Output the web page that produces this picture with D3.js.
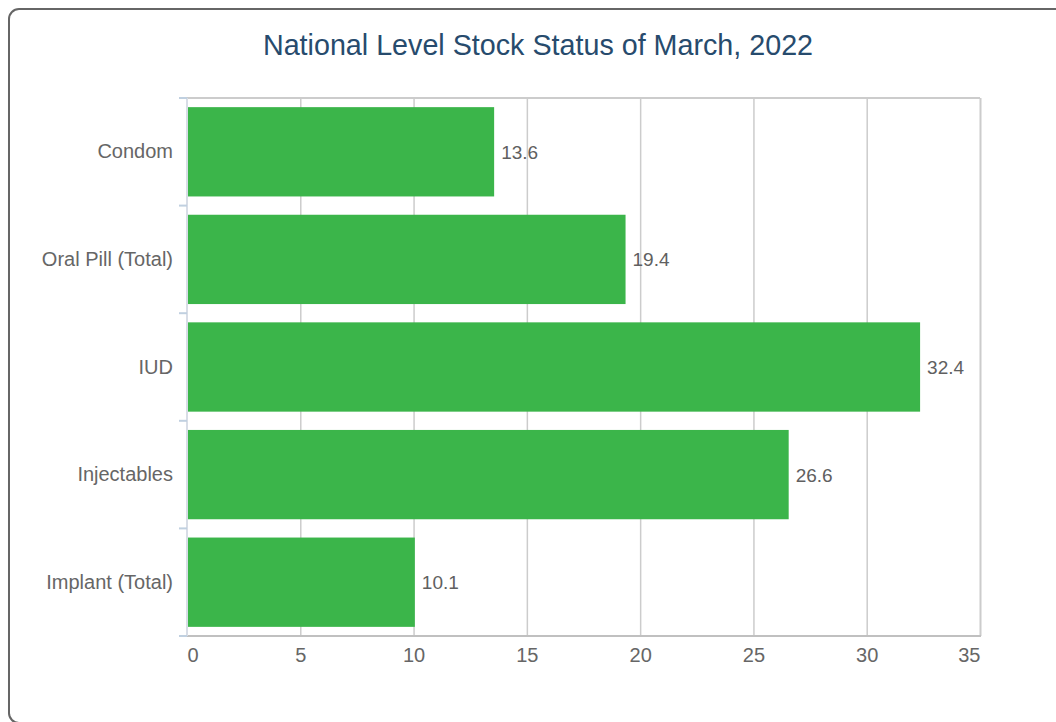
<!DOCTYPE html>
<html>
<head>
<meta charset="utf-8">
<script src="https://cdn.jsdelivr.net/npm/d3@7"></script>
<style>
  body { margin: 0; background: #fff; }
  svg { display: block; font-family: "Liberation Sans", Arial, sans-serif; }
</style>
</head>
<body>
<script>
'use strict';

// chart data
const categories = ["Condom", "Oral Pill (Total)", "IUD", "Injectables", "Implant (Total)"];
const stockValues = [13.6, 19.4, 32.4, 26.6, 10.1];
const xTickValues = [0, 5, 10, 15, 20, 25, 30, 35];
const chartTitle = "National Level Stock Status of March, 2022";

(function() {
  const width = 1056, height = 722;
  const plot = { left: 187, right: 980, top: 98, bottom: 636 };

  const svg = d3.select('body').append('svg')
    .attr('width', width)
    .attr('height', height);

  // outer rounded frame (runs off the right and bottom edges)
  svg.append('rect')
    .attr('x', 9).attr('y', 9)
    .attr('width', 1100).attr('height', 714)
    .attr('rx', 10).attr('ry', 10)
    .attr('fill', 'none')
    .attr('stroke', '#666')
    .attr('stroke-width', 2);

  // title
  svg.append('text')
    .attr('x', 538)
    .attr('y', 55)
    .attr('text-anchor', 'middle')
    .attr('font-size', '28.7px')
    .attr('fill', '#274b6d')
    .text(chartTitle);

  // scales
  const x = d3.scaleLinear()
    .domain([0, 35])
    .range([plot.left, plot.right]);

  const y = d3.scaleBand()
    .domain(categories)
    .range([plot.top, plot.bottom])
    .paddingInner(0.17)
    .paddingOuter(0.085);

  // top plot border
  svg.append('line')
    .attr('x1', plot.left).attr('x2', plot.right)
    .attr('y1', plot.top).attr('y2', plot.top)
    .attr('stroke', '#ccc').attr('stroke-width', 2);

  // vertical gridlines + bottom tick labels
  const xAxis = d3.axisBottom(x)
    .tickValues(xTickValues)
    .tickSize(-(plot.bottom - plot.top))
    .tickPadding(12)
    .tickFormat(d3.format('d'));

  const gx = svg.append('g')
    .attr('transform', `translate(0, ${plot.bottom})`)
    .call(xAxis);
  gx.select('.domain').remove();
  gx.selectAll('.tick line')
    .attr('stroke', '#ccc')
    .attr('stroke-width', (d) => d === 35 ? 2 : 1.5);
  gx.selectAll('.tick line').filter((d) => d === 0).remove();
  gx.selectAll('.tick text')
    .attr('font-size', '20px')
    .attr('fill', '#666')
    .attr('text-anchor', (d) => d === 0 ? 'start' : (d === 35 ? 'end' : 'middle'));

  // bottom axis line
  svg.append('line')
    .attr('x1', plot.left - 8).attr('x2', plot.right + 1)
    .attr('y1', plot.bottom).attr('y2', plot.bottom)
    .attr('stroke', '#c0c0c0').attr('stroke-width', 2);

  // category axis line and band separators
  svg.append('line')
    .attr('x1', plot.left).attr('x2', plot.left)
    .attr('y1', plot.top).attr('y2', plot.bottom)
    .attr('stroke', '#d8dde6').attr('stroke-width', 2);

  const bandEdges = categories.map((c) => y(c) - y.step() * y.paddingOuter())
    .concat([plot.bottom]);
  svg.selectAll('.band-tick')
    .data(bandEdges)
    .enter()
    .append('line')
      .attr('class', 'band-tick')
      .attr('x1', plot.left - 8).attr('x2', plot.left)
      .attr('y1', (d) => d).attr('y2', (d) => d)
      .attr('stroke', '#c0d0e0').attr('stroke-width', 2);

  // category labels
  const gy = svg.append('g')
    .attr('transform', `translate(${plot.left}, 0)`)
    .call(d3.axisLeft(y).tickSize(0).tickPadding(14));
  gy.select('.domain').remove();
  gy.selectAll('.tick text')
    .attr('font-size', '20px')
    .attr('fill', '#666')
    .attr('dy', '0.33em');

  // bars
  svg.selectAll('.bar')
    .data(categories)
    .enter()
    .append('rect')
      .attr('class', 'bar')
      .attr('x', x(0) + 1)
      .attr('y', (d) => y(d))
      .attr('width', (d, i) => x(stockValues[i]) - x(0) - 2)
      .attr('height', y.bandwidth())
      .attr('fill', '#3bb54a');

  // value labels
  svg.selectAll('.value-label')
    .data(categories)
    .enter()
    .append('text')
      .attr('class', 'value-label')
      .attr('x', (d, i) => x(stockValues[i]) + 6)
      .attr('y', (d) => y(d) + y.bandwidth() / 2)
      .attr('dy', '0.37em')
      .attr('font-size', '19px')
      .attr('fill', '#606060')
      .text((d, i) => stockValues[i]);
})();
</script>
</body>
</html>
